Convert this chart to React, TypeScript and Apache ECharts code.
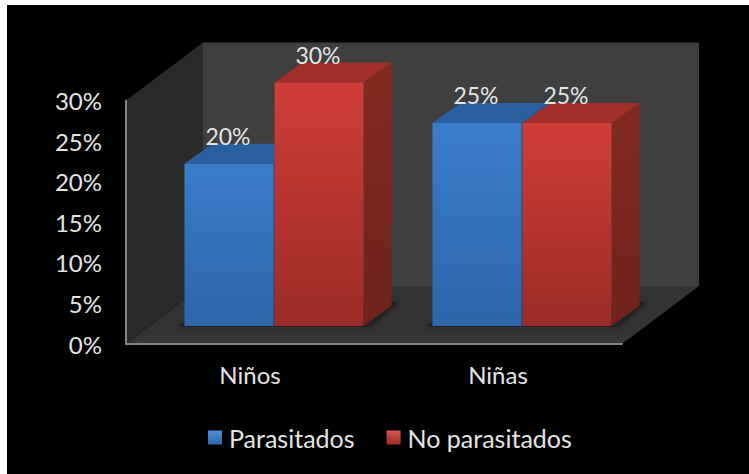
import React, { useEffect, useRef } from "react";
import * as echarts from "echarts";

const categories = ["Niños", "Niñas"];
const parasitados = [20, 25];
const noParasitados = [30, 25];
const yTicks = { min: 0, max: 30, interval: 5 };

const FONT = "Lato, 'Open Sans', sans-serif";
const TEXT = "#e4e4e4";

// Oblique projection used for the box walls and bar depth
const BOX_DX = 77;
const BOX_DY = -58;
const BAR_DX = 28;
const BAR_DY = -20;
const BAR_W = 89;
const BAR_SHIFT = 24; // bars stand further back than the tick plane
const BAR_LIFT = 18;

const vgrad = (top: string, bottom: string) =>
  new echarts.graphic.LinearGradient(0, 0, 0, 1, [
    { offset: 0, color: top },
    { offset: 1, color: bottom },
  ]);

const BLUE = {
  front: () => vgrad("#3b7ccb", "#2e66a9"),
  top: "#2a609f",
  side: () => vgrad("#245488", "#1f4876"),
};
const RED = {
  front: () => vgrad("#d13d39", "#9c2b26"),
  top: "#a32d29",
  side: () => vgrad("#83291f", "#6f221c"),
};

const poly = (points: number[][], style: any) => ({
  type: "polygon",
  shape: { points },
  style,
});

// Back wall, side wall, floor and the soft contact shadows under the bars
function renderStage(params: any, api: any) {
  const { x, y, width, height } = params.coordSys;
  const b = y + height;
  const r = x + width;
  const shadows = categories.map((_, i) => {
    const c = api.coord([i, 0])[0] + BAR_SHIFT;
    const base = b - BAR_LIFT;
    return poly(
      [
        [c - BAR_W - 6, base + 1],
        [c + BAR_W + 8, base + 1],
        [c + BAR_W + 8 + BAR_DX, base + BAR_DY - 4],
        [c - BAR_W + 22, base + BAR_DY - 4],
      ],
      { fill: "#242424", shadowBlur: 5, shadowColor: "#242424" },
    );
  });
  return {
    type: "group",
    children: [
      poly(
        [
          [x + BOX_DX, y + BOX_DY],
          [r + BOX_DX, y + BOX_DY],
          [r + BOX_DX, b + BOX_DY],
          [x + BOX_DX, b + BOX_DY],
        ],
        { fill: "#3e3e3e" },
      ),
      poly(
        [
          [x, y],
          [x + BOX_DX, y + BOX_DY],
          [x + BOX_DX, b + BOX_DY],
          [x, b],
        ],
        { fill: "#2a2a2a" },
      ),
      poly(
        [
          [x, b],
          [x + BOX_DX, b + BOX_DY],
          [r + BOX_DX, b + BOX_DY],
          [r, b],
        ],
        { fill: "#343434" },
      ),
      ...shadows,
    ],
  };
}

// One cuboid bar: front, top and right faces, with its value above
function makeBarRenderer(slot: number, palette: typeof BLUE) {
  return (_params: any, api: any) => {
    const [cx, top0] = api.coord([api.value(0), api.value(1)]);
    const [, base0] = api.coord([api.value(0), 0]);
    const top = top0 - BAR_LIFT;
    const base = base0 - BAR_LIFT;
    const mid = cx + BAR_SHIFT;
    const l = slot === 0 ? mid - BAR_W - 0.5 : mid + 0.5;
    const r = l + BAR_W;
    return {
      type: "group",
      children: [
        poly(
          [
            [r, top],
            [r + BAR_DX, top + BAR_DY],
            [r + BAR_DX, base + BAR_DY],
            [r, base],
          ],
          { fill: palette.side() },
        ),
        poly(
          [
            [l, top],
            [l + BAR_DX, top + BAR_DY],
            [r + BAR_DX, top + BAR_DY],
            [r, top],
          ],
          { fill: palette.top },
        ),
        { type: "rect", shape: { x: l, y: top, width: BAR_W, height: base - top }, style: { fill: palette.front() } },
        {
          type: "text",
          z2: 50,
          style: {
            x: (l + r) / 2 - 1,
            y: top - 28,
            text: `${api.value(1)}%`,
            fill: TEXT,
            font: `23px ${FONT}`,
            align: "center",
            verticalAlign: "middle",
          },
        },
      ],
    };
  };
}

export default function App() {
  const ref = useRef<HTMLDivElement>(null);

  useEffect(() => {
    const chart = echarts.init(ref.current!, undefined, { renderer: "svg" });
    chart.setOption({
      animation: false,
      backgroundColor: "#ffffff",
      textStyle: { fontFamily: FONT },
      graphic: [
        {
          type: "rect",
          z: -10,
          silent: true,
          shape: { x: 7, y: 5, width: 742, height: 469 },
          style: { fill: "#000000" },
        },
      ],
      grid: { left: 126, top: 100.5, width: 496, height: 243.5 },
      xAxis: {
        type: "category",
        data: categories,
        z: 5,
        axisLine: { lineStyle: { color: "#858585", width: 2 } },
        axisTick: { show: false },
        axisLabel: { color: TEXT, fontSize: 24, fontFamily: FONT, margin: 18 },
      },
      yAxis: {
        type: "value",
        ...yTicks,
        z: 5,
        axisLine: { show: true, lineStyle: { color: "#858585", width: 2 } },
        axisTick: { show: false },
        splitLine: { show: false },
        axisLabel: { color: TEXT, fontSize: 24, fontFamily: FONT, margin: 24, padding: [0, 0, 2, 0], formatter: "{value}%" },
      },
      legend: {
        left: 203,
        top: 420,
        itemWidth: 14,
        itemHeight: 14,
        itemGap: 32,
        icon: "rect",
        data: ["Parasitados", "No parasitados"],
        textStyle: { color: TEXT, fontSize: 25, fontFamily: FONT, padding: [0, 0, 0, 2] },
      },
      series: [
        {
          type: "custom",
          name: "stage",
          silent: true,
          clip: false,
          renderItem: renderStage,
          data: [[0, 0]],
        },
        {
          type: "custom",
          name: "Parasitados",
          clip: false,
          renderItem: makeBarRenderer(0, BLUE),
          itemStyle: { color: vgrad("#4f8fd8", "#2e66a9") },
          encode: { x: 0, y: 1 },
          data: parasitados.map((v, i) => [i, v]),
        },
        {
          type: "custom",
          name: "No parasitados",
          clip: false,
          renderItem: makeBarRenderer(1, RED),
          itemStyle: { color: vgrad("#dc5450", "#9c2b26") },
          encode: { x: 0, y: 1 },
          data: noParasitados.map((v, i) => [i, v]),
        },
      ],
    });
    return () => chart.dispose();
  }, []);

  return <div ref={ref} style={{ position: "fixed", left: 0, top: 0, width: 749, height: 474 }} />;
}
